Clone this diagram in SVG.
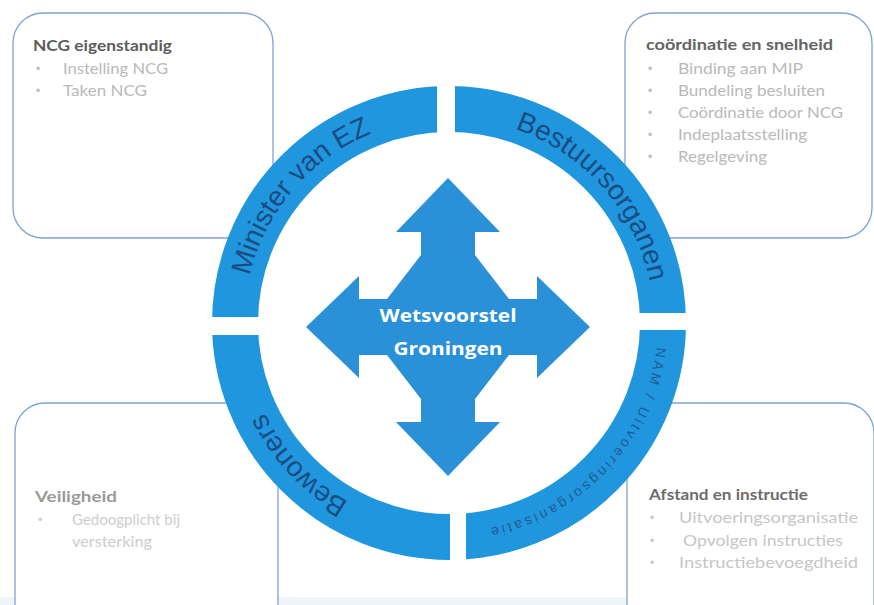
<svg xmlns="http://www.w3.org/2000/svg" width="874" height="605" viewBox="0 0 874 605">
  <style>
    .box { fill: #ffffff; stroke: #7ea4d4; stroke-width: 1.3; }
    .title { font-family: Lato, "Liberation Sans", sans-serif; font-weight: bold; font-size: 16px; fill: #5c5c5c; }
    .item { font-family: Lato, "Liberation Sans", sans-serif; font-size: 15px; fill: #b9b9b9; }
    .bullet { font-family: "Liberation Sans", sans-serif; font-size: 12px; fill: #bdbdbd; }
    .ring { fill: none; stroke: #1f96dd; stroke-width: 46; }
    .ringlabel { font-family: "Liberation Sans", Arial, sans-serif; font-size: 28px; fill: #1a4274; fill-opacity: 0.9; }
    .ringsmall { font-family: "Liberation Sans", Arial, sans-serif; font-size: 14px; fill: #244f85; fill-opacity: 0.85; }
    .center { font-family: "Open Sans", "Liberation Sans", sans-serif; font-weight: bold; font-size: 18px; fill: #ffffff; }
  </style>
  <defs>
    <clipPath id="ringclip">
      <rect x="200" y="70" width="237" height="247"/>
      <rect x="455" y="70" width="245" height="243"/>
      <rect x="466" y="330" width="234" height="250"/>
      <rect x="200" y="335" width="250" height="245"/>
    </clipPath>
    <path id="arcMinister" d="M290.8,453.4 A205,205 0 0 1 553.0,146.4"/>
    <path id="arcBestuur" d="M337.4,151.1 A205,205 0 0 1 612.7,446.4"/>
    <path id="arcBewoners" d="M561.6,494.3 A205,205 0 0 1 284.6,200.5"/>
    <path id="arcNAM" d="M615.9,197.2 A209,209 0 0 1 335.2,498.3"/>
  </defs>

  <rect x="0" y="0" width="874" height="605" fill="#ffffff"/>
  <rect x="0" y="597" width="874" height="8" fill="#eef6fb"/>

  <g id="box-ncg">
    <rect class="box" x="13" y="13" width="260" height="225" rx="30"/>
    <text class="title" x="33" y="51" textLength="139" lengthAdjust="spacingAndGlyphs">NCG eigenstandig</text>
    <text class="item"><tspan class="bullet" x="36" y="73">•</tspan><tspan x="63" y="74" textLength="105" lengthAdjust="spacingAndGlyphs">Instelling NCG</tspan></text>
    <text class="item"><tspan class="bullet" x="36" y="95">•</tspan><tspan x="63" y="96" textLength="84" lengthAdjust="spacingAndGlyphs">Taken NCG</tspan></text>
  </g>

  <g id="box-coordinatie">
    <rect class="box" x="625" y="13" width="247" height="225" rx="30"/>
    <text class="title" x="646" y="50" textLength="187" lengthAdjust="spacingAndGlyphs" style="fill:#646464">coördinatie en snelheid</text>
    <text class="item"><tspan class="bullet" x="648" y="73">•</tspan><tspan x="678" y="74" textLength="125" lengthAdjust="spacingAndGlyphs">Binding aan MIP</tspan></text>
    <text class="item"><tspan class="bullet" x="648" y="95">•</tspan><tspan x="678" y="96" textLength="147" lengthAdjust="spacingAndGlyphs">Bundeling besluiten</tspan></text>
    <text class="item"><tspan class="bullet" x="648" y="117">•</tspan><tspan x="678" y="118" textLength="165" lengthAdjust="spacingAndGlyphs">Coördinatie door NCG</tspan></text>
    <text class="item"><tspan class="bullet" x="648" y="139">•</tspan><tspan x="678" y="140" textLength="129" lengthAdjust="spacingAndGlyphs">Indeplaatsstelling</tspan></text>
    <text class="item"><tspan class="bullet" x="648" y="161">•</tspan><tspan x="678" y="162" textLength="89" lengthAdjust="spacingAndGlyphs">Regelgeving</tspan></text>
  </g>

  <g id="box-veiligheid">
    <rect class="box" x="15" y="403" width="263" height="240" rx="30"/>
    <text class="title" x="35" y="502" textLength="82" lengthAdjust="spacingAndGlyphs" style="fill:#9a9a9a">Veiligheid</text>
    <text class="item" style="fill:#cdcdcd"><tspan class="bullet" x="38" y="524" style="fill:#cccccc">•</tspan><tspan x="72" y="525" textLength="108" lengthAdjust="spacingAndGlyphs">Gedoogplicht bij</tspan><tspan x="72" y="547" textLength="80" lengthAdjust="spacingAndGlyphs">versterking</tspan></text>
  </g>

  <g id="box-afstand">
    <rect class="box" x="627" y="403" width="247" height="240" rx="30"/>
    <text class="title" x="649" y="500" textLength="159" lengthAdjust="spacingAndGlyphs" style="fill:#6c6c6c">Afstand en instructie</text>
    <text class="item" style="fill:#c6c6c6"><tspan class="bullet" x="650" y="522" style="fill:#c8c8c8">•</tspan><tspan x="679" y="523" textLength="179" lengthAdjust="spacingAndGlyphs">Uitvoeringsorganisatie</tspan></text>
    <text class="item" style="fill:#c6c6c6"><tspan class="bullet" x="650" y="545" style="fill:#c8c8c8">•</tspan><tspan x="683" y="546" textLength="160" lengthAdjust="spacingAndGlyphs">Opvolgen instructies</tspan></text>
    <text class="item" style="fill:#c6c6c6"><tspan class="bullet" x="650" y="567" style="fill:#c8c8c8">•</tspan><tspan x="679" y="568" textLength="179" lengthAdjust="spacingAndGlyphs">Instructiebevoegdheid</tspan></text>
  </g>

  <g id="ring">
    <circle class="ring" cx="449" cy="323" r="214" clip-path="url(#ringclip)"/>
  </g>

  <g id="seg-minister">
    <text class="ringlabel"><textPath href="#arcMinister" startOffset="50%" text-anchor="middle">Minister van EZ</textPath></text>
  </g>
  <g id="seg-bestuursorganen">
    <text class="ringlabel"><textPath href="#arcBestuur" startOffset="51%" text-anchor="middle">Bestuursorganen</textPath></text>
  </g>
  <g id="seg-bewoners">
    <text class="ringlabel"><textPath href="#arcBewoners" startOffset="50%" text-anchor="middle">Bewoners</textPath></text>
  </g>
  <g id="seg-nam">
    <text class="ringsmall" letter-spacing="3"><textPath href="#arcNAM" startOffset="50%" text-anchor="middle">NAM / Uitvoeringsorganisatie</textPath></text>
  </g>

  <g id="center">
    <polygon fill="#2a91d8" points="448,178 500,232 475,232 475,255 509,299 537,299 537,276 590,327 537,378 537,355 509,355 475,399 475,422 500,422 448,476 396,422 421,422 421,399 387,355 359,355 359,378 306,327 359,276 359,299 387,299 421,255 421,232 396,232"/>
    <text class="center" x="448" y="322" text-anchor="middle" textLength="137" lengthAdjust="spacingAndGlyphs">Wetsvoorstel</text>
    <text class="center" x="448" y="355" text-anchor="middle" textLength="109" lengthAdjust="spacingAndGlyphs">Groningen</text>
  </g>

  <g id="connectors"></g>
</svg>
